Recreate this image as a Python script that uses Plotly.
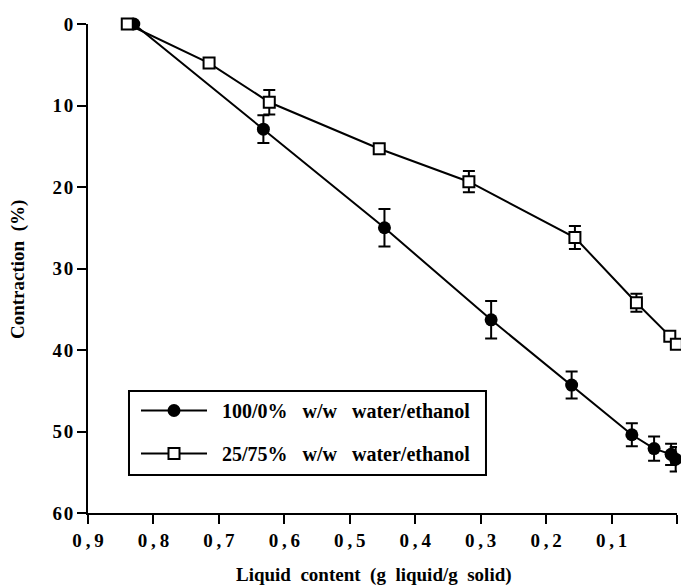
import plotly.graph_objects as go

# Series 1: 100/0% w/w water/ethanol (filled circles)
x_water = [0.830, 0.632, 0.447, 0.284, 0.161, 0.069, 0.035, 0.009, 0.002]
y_water = [0.0, 12.9, 25.0, 36.3, 44.3, 50.4, 52.1, 52.8, 53.4]
err_water = [0.0, 1.7, 2.3, 2.3, 1.65, 1.4, 1.5, 1.3, 1.5]

# Series 2: 25/75% w/w water/ethanol (open squares)
x_eth = [0.840, 0.715, 0.623, 0.455, 0.318, 0.156, 0.062, 0.011, 0.001]
y_eth = [0.0, 4.8, 9.6, 15.3, 19.35, 26.2, 34.2, 38.3, 39.3]
err_eth = [0.0, 0.0, 1.5, 0.0, 1.3, 1.4, 1.1, 0.0, 0.0]

x_tickvals = [0.9, 0.8, 0.7, 0.6, 0.5, 0.4, 0.3, 0.2, 0.1, 0.0]
x_ticktext = ["0\u2009,\u20099", "0\u2009,\u20098", "0\u2009,\u20097", "0\u2009,\u20096",
              "0\u2009,\u20095", "0\u2009,\u20094", "0\u2009,\u20093", "0\u2009,\u20092",
              "0\u2009,\u20091", "0"]
y_tickvals = [0, 10, 20, 30, 40, 50, 60]
y_ticktext = ["0", "1\u200a0", "2\u200a0", "3\u200a0", "4\u200a0", "5\u200a0", "6\u200a0"]

names = ["\u00a0\u00a0100/0%\u00a0\u00a0\u00a0w/w\u00a0\u00a0\u00a0water/ethanol",
         "\u00a0\u00a025/75%\u00a0\u00a0\u00a0w/w\u00a0\u00a0\u00a0water/ethanol"]
x_title = "Liquid\u00a0\u00a0content\u00a0\u00a0(g\u00a0\u00a0liquid/g\u00a0\u00a0solid)"
y_title = "Contraction\u00a0\u00a0(%)"

FONT = "Liberation Serif"

fig = go.Figure()
fig.add_trace(go.Scatter(
    x=x_water, y=y_water, mode="lines+markers", name=names[0],
    legendgroup="a",
    line=dict(color="black", width=2),
    marker=dict(symbol="circle", size=13, color="black"),
    error_y=dict(type="data", array=err_water, visible=True, color="black",
                 thickness=2, width=6),
    cliponaxis=False,
))
fig.add_trace(go.Scatter(
    x=x_eth, y=y_eth, mode="lines+markers", name=names[1],
    legendgroup="b",
    line=dict(color="black", width=2),
    marker=dict(symbol="square", size=11, color="white",
                line=dict(color="black", width=2)),
    error_y=dict(type="data", array=err_eth, visible=True, color="black",
                 thickness=2, width=6),
    cliponaxis=False,
))

fig.update_layout(
    width=681, height=586,
    margin=dict(l=88, r=4, t=24, b=73, autoexpand=False),
    plot_bgcolor="white", paper_bgcolor="white",
    font=dict(family=FONT, color="black", size=17, weight="bold"),
    showlegend=True,
    legend=dict(
        x=0.0815, y=0.2495, xanchor="left", yanchor="top",
        bgcolor="rgba(0,0,0,0)", borderwidth=0,
        font=dict(family=FONT, size=20, color="black", weight="bold"),
        itemwidth=66, tracegroupgap=14,
    ),
    shapes=[dict(type="rect", xref="paper", yref="paper",
                 x0=0.0696, x1=0.6757, y0=0.0777, y1=0.2495,
                 line=dict(color="black", width=2), fillcolor="rgba(0,0,0,0)",
                 layer="above")],
    annotations=[
        dict(text=x_title, xref="paper", yref="paper", x=0.4864, y=-0.1268,
             xanchor="center", yanchor="middle", showarrow=False,
             font=dict(family=FONT, size=19, weight="bold")),
        dict(text=y_title, xref="paper", yref="paper", x=-0.1188, y=0.497,
             xanchor="center", yanchor="middle", showarrow=False, textangle=-90,
             font=dict(family=FONT, size=19, weight="bold")),
    ],
)
fig.update_xaxes(
    range=[0.9, 0.0], tickmode="array", tickvals=x_tickvals, ticktext=x_ticktext,
    showline=True, linecolor="black", linewidth=2, showgrid=False, zeroline=False,
    ticks="outside", ticklen=9, tickwidth=2, tickcolor="black",
    tickfont=dict(family=FONT, size=19, weight="bold"),
)
fig.update_yaxes(
    range=[60, 0], tickmode="array", tickvals=y_tickvals, ticktext=y_ticktext,
    showline=True, linecolor="black", linewidth=2, showgrid=False, zeroline=False,
    ticks="outside", ticklen=9, tickwidth=2, tickcolor="black",
    tickfont=dict(family=FONT, size=19, weight="bold"),
)

fig.write_html("out.html", config={"displayModeBar": False},
               post_script="document.body.style.margin='0';")
